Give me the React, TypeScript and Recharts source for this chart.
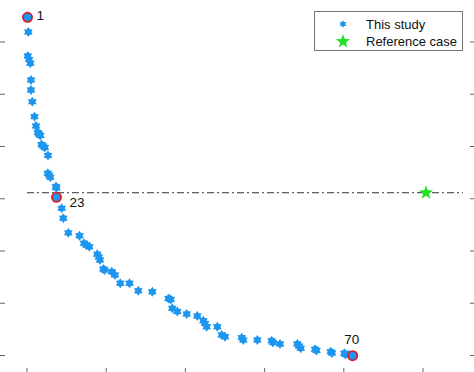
// Pareto-front scatter: 70 designs of this study (hexagram markers) against
// a single reference case. Only the inward tick marks of the axes show.

import { ScatterChart, Scatter, XAxis, YAxis, ReferenceLine, Legend } from "recharts";

const STUDY_X = [
  0.13, 0.33, 0.2, 0.51, 0.83, 1.01, 1.01, 1.34, 1.89, 2.27,
  2.73, 3.03, 3.36, 3.66, 4.04, 4.49, 5.3, 5.25, 5.56, 5.88,
  7.32, 7.42, 7.45, 8.76, 9.17, 10.43, 13.26, 14.39, 15.03, 15.73,
  17.75, 18.13, 18.43, 19.27, 19.57, 21.39, 22.22, 23.56, 25.88, 28.11,
  31.64, 35.73, 36.29, 36.69, 37.95, 40.33, 43.01, 44.52, 44.95, 45.38,
  48.06, 49.17, 50.0, 54.22, 54.62, 58.16, 61.79, 62.12, 63.89, 68.26,
  68.69, 69.12, 72.73, 73.11, 76.69, 77.02, 80.13, 80.43, 81.31, 82.25,
];
const STUDY_Y = [
  64.73, 61.92, 57.32, 56.65, 55.93, 52.73, 50.82, 48.58, 45.71, 43.93,
  42.68, 42.4, 42.11, 40.39, 40.1, 39.81, 38.28, 34.87, 34.51, 34.11,
  32.35, 32.06, 30.28, 28.17, 26.26, 23.48, 22.91, 21.48, 21.15, 20.82,
  19.37, 18.85, 18.28, 16.56, 16.36, 16.04, 15.41, 13.82, 13.82, 12.4,
  12.21, 10.91, 10.72, 9.03, 8.42, 7.94, 7.56, 6.66, 6.12, 5.51,
  5.51, 3.92, 3.6, 3.41, 2.97, 2.97, 2.83, 2.49, 2.2, 2.2,
  1.82, 1.38, 1.19, 0.96, 0.73, 0.48, 0.42, 0.19, 0.13, -0.04,
];
const MARKED = [1, 23, 70];
const REF_X = [100.76];
const REF_Y = [31.15];
const REF_LINE_X = [0, 110.1];
const X_TICKS = [0, 20, 40, 60, 80, 100];
const Y_TICKS = [0, 10, 20, 30, 40, 50, 60];
const LEGEND_LABELS = ["This study", "Reference case"];

const X_DOMAIN: [number, number] = [-7.07, 113.38];
const Y_DOMAIN: [number, number] = [-3.54, 68.23];

const BLUE = "#1e96f0";
const RED = "#d81f2c";
const GREEN = "#22e022";
const TICK = "#666";
const FONT = "Arial, 'Liberation Sans', sans-serif";

const LABEL_OFFSET: Record<string, { dx: number; dy: number; anchor: "start" | "middle" }> = {
  "1": { dx: 9, dy: 3, anchor: "start" },
  "23": { dx: 13, dy: 10, anchor: "start" },
  "70": { dx: -1, dy: -12, anchor: "middle" },
};

function starPath(cx: number, cy: number, n: number, R: number, r: number) {
  const pts: string[] = [];
  for (let k = 0; k < n * 2; k++) {
    const a = -Math.PI / 2 + (k * Math.PI) / n;
    const rad = k % 2 === 0 ? R : r;
    pts.push(`${(cx + rad * Math.cos(a)).toFixed(2)},${(cy + rad * Math.sin(a)).toFixed(2)}`);
  }
  return "M" + pts.join("L") + "Z";
}

// tick labels sit outside the cropped frame, so draw none
const noLabel = () => <g />;

const studyData = STUDY_X.map((x, i) => ({ x, y: STUDY_Y[i] }));
const markedData = MARKED.map((n) => ({ x: STUDY_X[n - 1], y: STUDY_Y[n - 1], label: String(n) }));
const refData = REF_X.map((x, i) => ({ x, y: REF_Y[i] }));

function LegendBox() {
  return (
    <div
      style={{
        width: 149,
        height: 40,
        boxSizing: "border-box",
        border: "1px solid #777",
        background: "#fff",
      }}
    >
      <svg width={147} height={38} style={{ display: "block" }}>
        <path d={starPath(28, 12, 6, 3.8, 2.3)} fill={BLUE} />
        <path d={starPath(28, 29.5, 5, 7.5, 3)} fill={GREEN} />
        <text x={51} y={16.5} fontSize={13} fontFamily={FONT} fill="#111">
          {LEGEND_LABELS[0]}
        </text>
        <text x={51} y={33.5} fontSize={13} fontFamily={FONT} fill="#111">
          {LEGEND_LABELS[1]}
        </text>
      </svg>
    </div>
  );
}

export default function App() {
  return (
    <div style={{ position: "absolute", left: -1, top: -1 }}>
      <ScatterChart width={477} height={375} margin={{ top: 0, right: 0, bottom: 0, left: 0 }}>
        <XAxis
          dataKey="x"
          type="number"
          domain={X_DOMAIN}
          allowDataOverflow
          ticks={X_TICKS}
          height={1}
          mirror
          tick={noLabel}
          tickSize={6}
          tickLine={{ stroke: TICK }}
          axisLine={{ stroke: TICK }}
        />
        <XAxis
          xAxisId="top"
          orientation="top"
          type="number"
          domain={X_DOMAIN}
          allowDataOverflow
          ticks={X_TICKS}
          height={1}
          mirror
          tick={noLabel}
          tickSize={6}
          tickLine={{ stroke: TICK }}
          axisLine={{ stroke: TICK }}
        />
        <YAxis
          dataKey="y"
          type="number"
          domain={Y_DOMAIN}
          allowDataOverflow
          ticks={Y_TICKS}
          width={1}
          mirror
          tick={noLabel}
          tickSize={6}
          tickLine={{ stroke: TICK }}
          axisLine={{ stroke: TICK }}
        />
        <YAxis
          yAxisId="right"
          orientation="right"
          type="number"
          domain={Y_DOMAIN}
          allowDataOverflow
          ticks={Y_TICKS}
          width={1}
          mirror
          tick={noLabel}
          tickSize={6}
          tickLine={{ stroke: TICK }}
          axisLine={{ stroke: TICK }}
        />
        <ReferenceLine
          segment={[
            { x: REF_LINE_X[0], y: REF_Y[0] },
            { x: REF_LINE_X[1], y: REF_Y[0] },
          ]}
          stroke="#333"
          strokeWidth={1}
          strokeDasharray="7 3 2 3"
        />
        <Scatter
          data={studyData}
          isAnimationActive={false}
          shape={(p: any) => <path d={starPath(p.cx, p.cy, 6, 5, 3.1)} fill={BLUE} />}
        />
        <Scatter
          data={markedData}
          isAnimationActive={false}
          shape={(p: any) => {
            const off = LABEL_OFFSET[p.payload.label];
            return (
              <g>
                <circle cx={p.cx} cy={p.cy} r={4.6} fill={BLUE} stroke={RED} strokeWidth={1.8} />
                <text
                  x={p.cx + off.dx}
                  y={p.cy + off.dy}
                  textAnchor={off.anchor}
                  fontSize={13.5}
                  fontFamily={FONT}
                  fill="#111"
                >
                  {p.payload.label}
                </text>
              </g>
            );
          }}
        />
        <Scatter
          data={refData}
          isAnimationActive={false}
          shape={(p: any) => <path d={starPath(p.cx, p.cy, 5, 7.5, 3)} fill={GREEN} />}
        />
        <Legend
          layout="horizontal"
          verticalAlign="middle"
          align="center"
          wrapperStyle={{ top: 12, left: 315, width: 149, height: 40 }}
          content={() => <LegendBox />}
        />
      </ScatterChart>
    </div>
  );
}
